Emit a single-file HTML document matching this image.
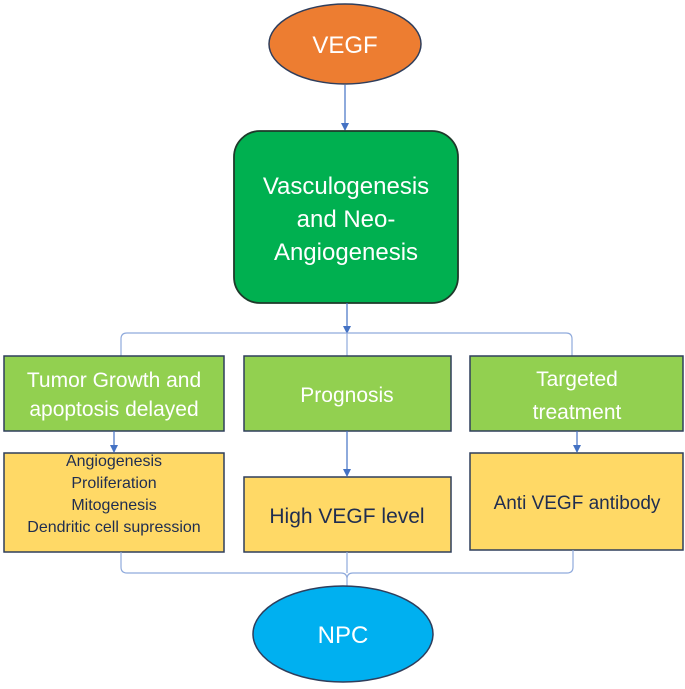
<!DOCTYPE html><html><head><style>body{margin:0;background:#fff}text{font-family:"Liberation Sans",sans-serif}</style></head><body>
<svg width="685" height="684" xmlns="http://www.w3.org/2000/svg">
<defs><marker id="a" markerWidth="8" markerHeight="8" refX="7" refY="4" orient="auto" markerUnits="userSpaceOnUse"><path d="M0,0L8,4L0,8z" fill="#4472c4"/></marker></defs>
<ellipse cx="345" cy="44" rx="76" ry="40" fill="#ed7d31" stroke="#2f3e5c" stroke-width="1.5"/>
<text x="345" y="53" font-size="24" fill="#fff" text-anchor="middle">VEGF</text>
<line x1="345" y1="85" x2="345" y2="130" stroke="#4472c4" stroke-width="1.2" marker-end="url(#a)"/>
<rect x="234" y="131" width="224" height="172" rx="26" fill="#00b050" stroke="#1e3a2a" stroke-width="1.8"/>
<text font-size="24" fill="#fff" text-anchor="middle"><tspan x="346" y="194">Vasculogenesis</tspan><tspan x="346" y="227">and Neo-</tspan><tspan x="346" y="260">Angiogenesis</tspan></text>
<line x1="347" y1="303" x2="347" y2="333" stroke="#4472c4" stroke-width="1.2" marker-end="url(#a)"/>
<path d="M121,356V339Q121,333 127,333H566Q572,333 572,339V356M347,333V356" fill="none" stroke="#8faadc" stroke-width="1.2"/>
<g stroke="#2f3e5c" stroke-width="1.5" fill="#92d050">
<rect x="4" y="356" width="220" height="75"/><rect x="244" y="356" width="207" height="75"/><rect x="470" y="356" width="213" height="75"/></g>
<g stroke="#2f3e5c" stroke-width="1.5" fill="#ffd966">
<rect x="4" y="453" width="220" height="99"/><rect x="244" y="477" width="207" height="75"/><rect x="470" y="453" width="213" height="97"/></g>
<g stroke="#4472c4" stroke-width="1.2" marker-end="url(#a)">
<line x1="114" y1="431" x2="114" y2="452"/><line x1="347" y1="431" x2="347" y2="476"/><line x1="577" y1="431" x2="577" y2="452"/></g>
<path d="M121,552V567Q121,573 127,573H341Q347,573 347,579V586M573,550V567Q573,573 567,573H353Q347,573 347,579M347,552V573" fill="none" stroke="#8faadc" stroke-width="1.2"/>
<g font-size="21" fill="#fff" text-anchor="middle">
<text x="114" y="387">Tumor Growth and</text><text x="114" y="416">apoptosis delayed</text>
<text x="347" y="402">Prognosis</text>
<text x="577" y="386">Targeted</text><text x="577" y="419">treatment</text></g>
<g fill="#1f2d50" text-anchor="middle">
<g font-size="16"><text x="114" y="466">Angiogenesis</text><text x="114" y="488">Proliferation</text><text x="114" y="510">Mitogenesis</text><text x="114" y="532">Dendritic cell supression</text></g>
<text x="347" y="523" font-size="21">High VEGF level</text>
<text x="577" y="509" font-size="19">Anti VEGF antibody</text></g>
<ellipse cx="343" cy="634" rx="90" ry="48" fill="#00b0f0" stroke="#2f3e5c" stroke-width="1.5"/>
<text x="343" y="643" font-size="24" fill="#fff" text-anchor="middle">NPC</text>
</svg>
</body></html>
